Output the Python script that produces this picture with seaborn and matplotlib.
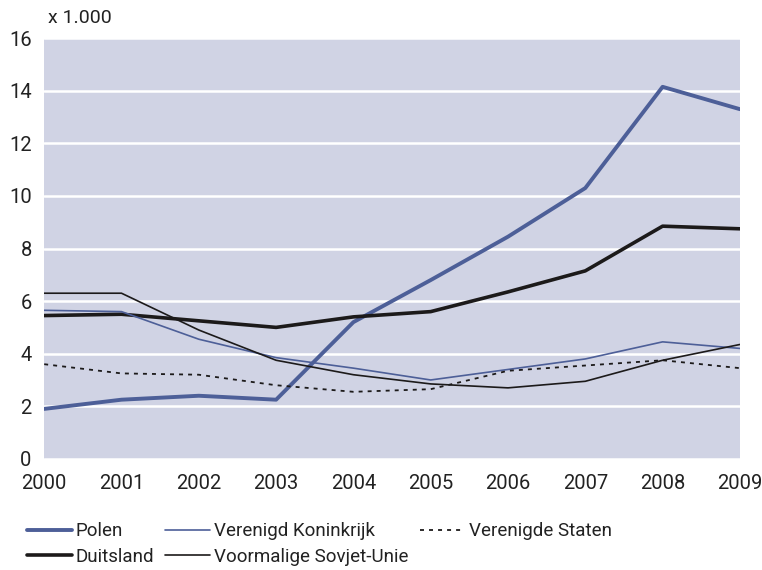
import matplotlib
matplotlib.use("Agg")
import matplotlib.pyplot as plt
import seaborn as sns

sns.set_theme(style="white")
plt.rcParams['font.family'] = ['Roboto', 'DejaVu Sans']

years = list(range(2000, 2010))
polen = [1.9, 2.25, 2.4, 2.25, 5.2, 6.8, 8.45, 10.3, 14.15, 13.3]
duitsland = [5.45, 5.5, 5.25, 5.0, 5.4, 5.6, 6.35, 7.15, 8.85, 8.75]
vk = [5.65, 5.6, 4.55, 3.85, 3.45, 3.0, 3.4, 3.8, 4.45, 4.2]
sovjet = [6.3, 6.3, 4.9, 3.75, 3.2, 2.85, 2.7, 2.95, 3.75, 4.35]
vs = [3.6, 3.25, 3.2, 2.8, 2.55, 2.65, 3.35, 3.55, 3.75, 3.45]
yticks = [0, 2, 4, 6, 8, 10, 12, 14, 16]

blue = '#4d5f98'
dark = '#1c1a1a'

fig = plt.figure(figsize=(7.62, 5.70), dpi=100)
ax = fig.add_axes([0.058, 0.195, 0.913, 0.738])
ax.set_facecolor('#d0d3e4')

sns.lineplot(x=years, y=polen, ax=ax, color=blue, linewidth=2.8, label='Polen')
sns.lineplot(x=years, y=duitsland, ax=ax, color=dark, linewidth=2.6, label='Duitsland')
sns.lineplot(x=years, y=vk, ax=ax, color=blue, linewidth=1.2, label='Verenigd Koninkrijk')
sns.lineplot(x=years, y=sovjet, ax=ax, color=dark, linewidth=1.2, label='Voormalige Sovjet-Unie')
sns.lineplot(x=years, y=vs, ax=ax, color=dark, linewidth=1.3, linestyle=(0, (2.2, 2.8)),
             label='Verenigde Staten')

ax.set_xlim(2000, 2009)
ax.set_ylim(0, 16)
ax.set_yticks(yticks)
ax.set_xticks(years)
ax.set_xticklabels([str(y) for y in years])
ax.grid(axis='y', color='white', linewidth=1.8)
ax.set_axisbelow(True)
for s in ax.spines.values():
    s.set_visible(False)
ax.tick_params(axis='both', length=0, labelsize=14.5, colors='#222222')
ax.tick_params(axis='y', pad=9)
ax.tick_params(axis='x', pad=11)
ax.set_xlabel('')
ax.set_ylabel('')

fig.text(0.063, 0.952, 'x 1.000', fontsize=14, color='#222222', ha='left', va='bottom')

handles, labels = ax.get_legend_handles_labels()
ax.legend_.remove()
fig.legend(handles, labels, loc='upper left', bbox_to_anchor=(0.035, 0.084), ncol=3,
           frameon=False, prop={'size': 13.5}, labelcolor='#222222',
           handlelength=2.4, handletextpad=0.2, columnspacing=0.6, labelspacing=0.4,
           borderpad=0, borderaxespad=0)

fig.savefig('out.png', dpi=100)
